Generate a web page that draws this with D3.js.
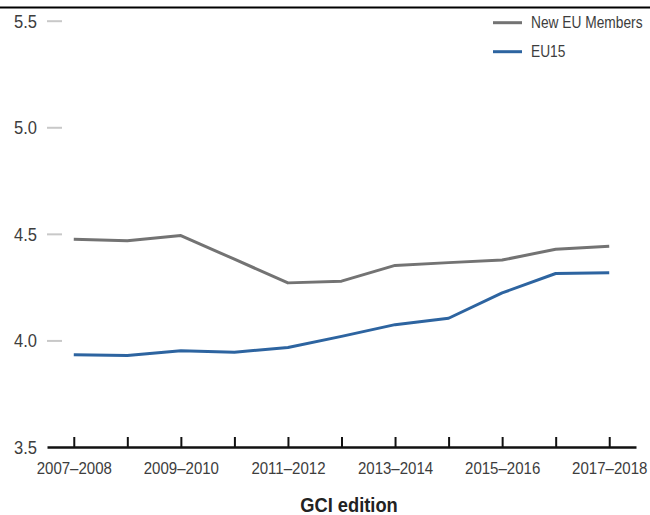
<!DOCTYPE html>
<html>
<head>
<meta charset="utf-8">
<script src="https://cdn.jsdelivr.net/npm/d3@7"></script>
<style>
	body { margin: 0; background: #fff; }
	svg { display: block; }
</style>
</head>
<body>
<div id="chart"></div>
<script>
var editions = ['2007–2008', '2008–2009', '2009–2010', '2010–2011', '2011–2012', '2012–2013',
	'2013–2014', '2014–2015', '2015–2016', '2016–2017', '2017–2018'];
var newMembers = [4.475, 4.468, 4.492, 4.381, 4.27, 4.278, 4.352, 4.365, 4.377, 4.428, 4.442];
var eu15 = [3.933, 3.929, 3.951, 3.945, 3.967, 4.019, 4.074, 4.104, 4.223, 4.314, 4.318];
var yTicks = [3.5, 4.0, 4.5, 5.0, 5.5];
var seriesNames = ['New EU Members', 'EU15'];

var width = 650, height = 515;
var fontFamily = '"Liberation Sans", Arial, sans-serif';
var grey = '#737373', blue = '#2d64a0', textColor = '#3d3d3d';

// No condensed face is installed, so squeeze text horizontally around its anchor.
function condense(sel, k) {
	sel.each(function() {
		var t = d3.select(this);
		var x0 = +t.attr('x') || 0, y0 = +t.attr('y') || 0;
		t.attr('x', 0).attr('y', 0)
			.attr('transform', 'translate(' + x0 + ',' + y0 + ') scale(' + k + ',1)');
	});
}

var svg = d3.select('#chart')
	.append('svg')
	.attr('width', width)
	.attr('height', height)
	.style('font-family', fontFamily);

// Rule left over from the figure header.
svg.append('line')
	.attr('x1', 0).attr('x2', width)
	.attr('y1', 7.5).attr('y2', 7.5)
	.style('stroke', '#000')
	.style('stroke-width', 2);

var x = d3.scalePoint()
	.domain(editions)
	.range([47, 636])
	.padding(0.5);

var y = d3.scaleLinear()
	.domain([3.5, 5.5])
	.range([447, 20.7]);

// Y axis: short grey ticks, no domain line.
var yAxis = svg.append('g')
	.attr('class', 'axis y')
	.attr('transform', 'translate(62,0)')
	.call(d3.axisLeft(y).tickValues(yTicks).tickFormat(d3.format('.1f')).tickSize(15).tickPadding(10));
yAxis.select('.domain').remove();
yAxis.selectAll('.tick line')
	.style('stroke', '#c8c8c8')
	.style('stroke-width', 2)
	.style('display', function(d) { return d === 3.5 ? 'none' : null; });
yAxis.selectAll('.tick text')
	.style('font-size', '18px')
	.style('fill', textColor)
	.attr('dy', '0.36em')
	.call(condense, 0.92);

// X axis: black baseline with upward ticks, every other edition labelled.
var xAxis = svg.append('g')
	.attr('class', 'axis x')
	.attr('transform', 'translate(0,447)')
	.call(d3.axisBottom(x)
		.tickSize(-10)
		.tickSizeOuter(0)
		.tickPadding(16)
		.tickFormat(function(d, i) { return i % 2 === 0 ? d : ''; }));
xAxis.select('.domain')
	.style('stroke', '#111')
	.style('stroke-width', 2.5);
xAxis.selectAll('.tick line')
	.style('stroke', '#111')
	.style('stroke-width', 2);
xAxis.selectAll('.tick text')
	.style('font-size', '16px')
	.style('fill', textColor)
	.call(condense, 0.94);

svg.append('text')
	.attr('x', 349)
	.attr('y', 512)
	.attr('text-anchor', 'middle')
	.style('font-size', '21px')
	.style('font-weight', 'bold')
	.style('fill', '#222')
	.text('GCI edition')
	.call(condense, 0.87);

var line = d3.line()
	.x(function(d, i) { return x(editions[i]); })
	.y(function(d) { return y(d); });

[[newMembers, grey], [eu15, blue]].forEach(function(s) {
	svg.append('path')
		.datum(s[0])
		.attr('d', line)
		.style('fill', 'none')
		.style('stroke', s[1])
		.style('stroke-width', 3)
		.style('stroke-linejoin', 'round');
});

// Legend, top right.
var legend = svg.selectAll('.legend')
	.data(seriesNames)
	.enter().append('g')
	.attr('class', 'legend')
	.attr('transform', function(d, i) { return 'translate(493,' + (22.7 + i * 29) + ')'; });
legend.append('line')
	.attr('x1', 0).attr('x2', 29)
	.style('stroke', function(d, i) { return i === 0 ? grey : blue; })
	.style('stroke-width', 3);
legend.append('text')
	.attr('x', 38)
	.attr('dy', '0.35em')
	.style('font-size', '16px')
	.style('fill', textColor)
	.text(function(d) { return d; })
	.call(condense, 0.86);
</script>
</body>
</html>
